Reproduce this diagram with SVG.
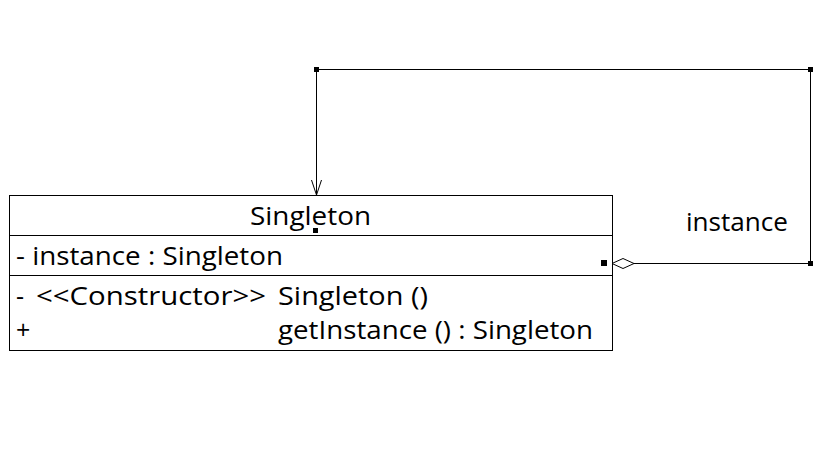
<svg xmlns="http://www.w3.org/2000/svg" width="833" height="459" viewBox="0 0 833 459">
<style>
text{font-family:"Open Sans","Noto Sans","DejaVu Sans",sans-serif;font-size:25px;fill:#000}
.ln{fill:none;stroke:#000;stroke-width:1}
.h{fill:#000}
</style>
<rect width="833" height="459" fill="#fff"/>
<g id="connectors">
<polyline class="ln" points="634,263.5 810.5,263.5 810.5,69.5 316.5,69.5 316.5,195"/>
<polyline class="ln" points="311.5,180 316.5,195 321.5,180"/>
<polygon points="612,263.5 623,258.5 634,263.5 623,268.5" fill="#fff" stroke="#000"/>
<rect class="h" x="314" y="67" width="5" height="5"/>
<rect class="h" x="808" y="67" width="5" height="5"/>
<rect class="h" x="808" y="261" width="5" height="5"/>
<text id="edge-label" x="686" y="231" textLength="102" lengthAdjust="spacingAndGlyphs">instance</text>
</g>
<g id="singleton">
<rect class="ln" x="9.5" y="195.5" width="603" height="155"/>
<line class="ln" x1="9" y1="235.5" x2="612" y2="235.5"/>
<line class="ln" x1="9" y1="275.5" x2="612" y2="275.5"/>
<text x="250" y="225" textLength="121" lengthAdjust="spacingAndGlyphs">Singleton</text>
<rect class="h" x="313" y="228" width="5" height="5"/>
<rect class="h" x="601" y="260" width="6" height="6"/>
<text x="16" y="265" textLength="267" lengthAdjust="spacingAndGlyphs">- instance : Singleton</text>
<text x="16" y="305">-</text>
<text x="36" y="305" textLength="230" lengthAdjust="spacingAndGlyphs">&lt;&lt;Constructor&gt;&gt;</text>
<text x="278" y="305" textLength="150" lengthAdjust="spacingAndGlyphs">Singleton ()</text>
<text x="16" y="339">+</text>
<text x="278" y="339" textLength="315" lengthAdjust="spacingAndGlyphs">getInstance () : Singleton</text>
</g>
</svg>
